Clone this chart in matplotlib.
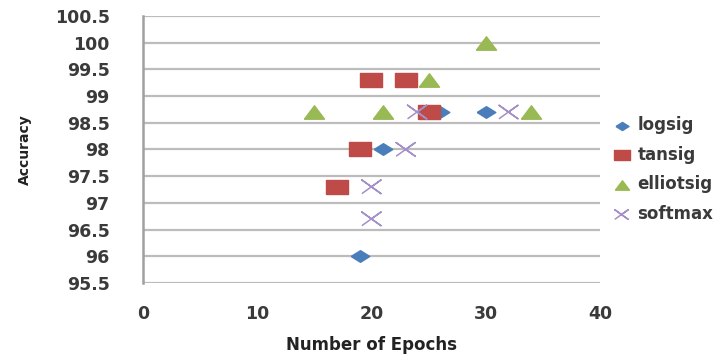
import matplotlib
matplotlib.use("Agg")
import matplotlib.pyplot as plt

# epochs vs accuracy for each activation function
logsig_x = [19, 21, 26, 30]
logsig_y = [96.0, 98.0, 98.7, 98.7]

tansig_x = [20, 23, 25, 19, 17]
tansig_y = [99.3, 99.3, 98.7, 98.0, 97.3]

elliot_x = [30, 25, 15, 21, 34]
elliot_y = [100.0, 99.3, 98.7, 98.7, 98.7]

softmax_x = [24, 32, 23, 20, 20]
softmax_y = [98.7, 98.7, 98.0, 97.3, 96.7]

x_ticks = [0, 10, 20, 30, 40]
y_ticks = [95.5, 96, 96.5, 97, 97.5, 98, 98.5, 99, 99.5, 100, 100.5]

plt.rcParams['font.family'] = ['DejaVu Sans']
txt = '#3a3a3a'

# wide markers (the chart is drawn stretched sideways)
rect = [(-1.5, -1), (1.5, -1), (1.5, 1), (-1.5, 1), (-1.5, -1)]
diam = [(-1.6, 0), (0, -1), (1.6, 0), (0, 1), (-1.6, 0)]
tri = [(-1.5, -1), (1.5, -1), (0, 1), (-1.5, -1)]
cross = [(-1.4, -1), (1.4, 1), (0, 0), (-1.4, 1), (1.4, -1), (0, 0)]

fig = plt.figure(figsize=(7.24, 3.6), dpi=100)
ax = fig.add_axes([0.1975, 0.214, 0.631, 0.742])

ax.scatter(logsig_x, logsig_y, marker=diam, s=180, color='#4a7ebb', label='logsig', zorder=3)
ax.scatter(tansig_x, tansig_y, marker=rect, s=240, color='#be4b48', label='tansig', zorder=3)
ax.scatter(elliot_x, elliot_y, marker=tri, s=210, color='#98b954', label='elliotsig', zorder=3)
ax.scatter(softmax_x, softmax_y, marker=cross, s=190, facecolor='none', edgecolor='#a58fc8',
           linewidths=1.1, label='softmax', zorder=3)

ax.set_xlim(0, 40)
ax.set_ylim(95.5, 100.5)
ax.set_xticks(x_ticks)
ax.set_yticks(y_ticks)
ax.set_yticklabels([f'{v:g}' for v in y_ticks])
ax.yaxis.grid(True, color='#bcbcbc', linewidth=1.6)
ax.set_axisbelow(True)
for s in ['top', 'right', 'bottom']:
    ax.spines[s].set_visible(False)
ax.spines['left'].set_color('#a0a0a0')
ax.spines['left'].set_linewidth(1.8)
ax.tick_params(axis='y', length=0, pad=24, labelsize=12.5, labelcolor=txt)
ax.tick_params(axis='x', length=0, pad=16, labelsize=12.5, labelcolor=txt)
for lab in ax.get_xticklabels() + ax.get_yticklabels():
    lab.set_fontweight('bold')

ax.set_xlabel('Number of Epochs', fontsize=12, fontweight='bold', color='#222222', labelpad=9)
ax.set_ylabel('Accuracy', fontsize=10, fontweight='bold', color='#222222', labelpad=16)

leg = ax.legend(loc='center left', bbox_to_anchor=(1.0, 0.425), frameon=False,
                fontsize=12, handletextpad=0.35, handlelength=1.2, labelspacing=0.7,
                markerscale=0.7, borderaxespad=0.3)
for t in leg.get_texts():
    t.set_fontweight('bold')
    t.set_color(txt)

fig.savefig('out.png', dpi=100)
